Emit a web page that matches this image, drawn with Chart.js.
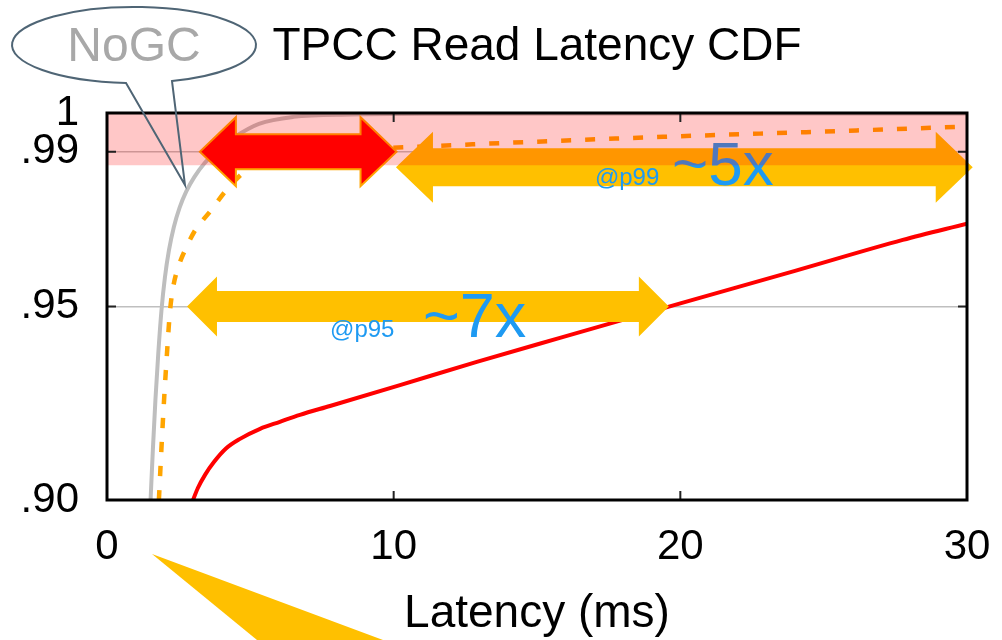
<!DOCTYPE html>
<html>
<head>
<meta charset="utf-8">
<title>TPCC Read Latency CDF</title>
<script src="https://cdn.jsdelivr.net/npm/chart.js@4.4.1/dist/chart.umd.min.js"></script>
<style>
  html, body { margin: 0; padding: 0; background: #fff; }
  #wrap { width: 1002px; height: 640px; }
</style>
</head>
<body>
<div id="wrap"><canvas id="cdf" width="1002" height="640"></canvas></div>
<script>
const FONT = "'Liberation Sans', Arial, Helvetica, sans-serif";

const xTicks = [0, 10, 20, 30];
const yTicks = [0.90, 0.95, 0.99, 1];
const yTickLabels = ['.90', '.95', '.99', '1'];

// latency (ms) -> cumulative fraction
const noGcX = [1.52, 1.60, 1.69, 1.79, 1.90, 2.02, 2.16, 2.33, 2.53, 2.77, 3.05, 3.4, 3.85, 4.45, 5.3, 6.5, 8.5, 12, 20, 30];
const noGcY = [0.900, 0.913, 0.926, 0.938, 0.949, 0.9575, 0.9645, 0.9705, 0.9755, 0.9798, 0.9835, 0.9870, 0.9905, 0.9938, 0.9972, 0.9990, 0.9996, 0.9998, 0.9999, 0.9999];

const dashX = [1.81, 1.89, 1.98, 2.08, 2.2, 2.32, 2.5, 2.75, 3.1, 3.59, 4.19, 4.88, 5.69, 7.0, 8.8, 10.57, 15, 20, 25, 30];
const dashY = [0.900, 0.912, 0.9245, 0.9365, 0.9490, 0.9555, 0.9605, 0.9650, 0.9700, 0.9745, 0.9803, 0.9853, 0.9880, 0.9897, 0.9906, 0.9912, 0.9926, 0.9940, 0.9952, 0.9965];

const redX = [3.0, 3.17, 3.42, 3.73, 4.15, 4.64, 5.34, 6.03, 6.73, 7.78, 10.22, 12.9, 15.8, 20, 24, 27.76, 30];
const redY = [0.900, 0.9031, 0.9065, 0.9098, 0.9133, 0.9158, 0.9184, 0.9202, 0.9220, 0.9243, 0.9297, 0.9357, 0.9419, 0.9508, 0.9592, 0.9672, 0.9714];

// double arrows: from / to (ms) at a percentile level
const arrowFrom = [3.24, 10.08, 2.79];
const arrowTo = [10.1, 30.2, 19.6];
const arrowLevel = [0.99, 0.986, 0.95];

// shaded p99+ band
const bandFrom = 0.9865;
const bandTo = 1;

const toPoints = (xs, ys) => xs.map((x, i) => ({ x: x, y: ys[i] }));

const arrowStyles = [
    { fill: '#FF0000', stroke: '#FFA500', shaft: 17.5, head: 34.5, len: 36 },
    { fill: '#FFC000', stroke: null, shaft: 19, head: 35.5, len: 37 },
    { fill: '#FFC000', stroke: null, shaft: 15.5, head: 30, len: 30 }
];

const notes = [
    { text: '@p99', x: 17.02, y: 0.9814, size: 24 },
    { text: '~5x', x: 19.71, y: 0.9814, size: 62 },
    { text: '@p95', x: 7.78, y: 0.9421, size: 24 },
    { text: '~7x', x: 11.02, y: 0.9421, size: 63 }
];

function blockArrow(ctx, x1, x2, y, s) {
    ctx.beginPath();
    ctx.moveTo(x1, y);
    ctx.lineTo(x1 + s.len, y - s.head);
    ctx.lineTo(x1 + s.len, y - s.shaft);
    ctx.lineTo(x2 - s.len, y - s.shaft);
    ctx.lineTo(x2 - s.len, y - s.head);
    ctx.lineTo(x2, y);
    ctx.lineTo(x2 - s.len, y + s.head);
    ctx.lineTo(x2 - s.len, y + s.shaft);
    ctx.lineTo(x1 + s.len, y + s.shaft);
    ctx.lineTo(x1 + s.len, y + s.head);
    ctx.closePath();
}

const decorPlugin = {
    id: 'decor',
    afterDatasetsDraw(chart) {
        const ctx = chart.ctx;
        const xs = chart.scales.x;
        const ys = chart.scales.y;
        const area = chart.chartArea;

        // arrows
        arrowFrom.forEach((from, i) => {
            const s = arrowStyles[i];
            blockArrow(ctx, xs.getPixelForValue(from), xs.getPixelForValue(arrowTo[i]), ys.getPixelForValue(arrowLevel[i]), s);
            ctx.fillStyle = s.fill;
            ctx.fill();
            if (s.stroke) {
                ctx.lineWidth = 2;
                ctx.strokeStyle = s.stroke;
                ctx.lineJoin = 'miter';
                ctx.stroke();
            }
        });

        // speed-up notes
        ctx.save();
        ctx.fillStyle = '#1E9AF2';
        ctx.textAlign = 'left';
        ctx.textBaseline = 'alphabetic';
        notes.forEach(n => {
            ctx.font = n.size + 'px ' + FONT;
            ctx.fillText(n.text, xs.getPixelForValue(n.x), ys.getPixelForValue(n.y));
        });
        ctx.restore();

        // translucent band drawn over everything inside it
        const bTop = ys.getPixelForValue(bandTo);
        const bBot = ys.getPixelForValue(bandFrom);
        ctx.fillStyle = 'rgba(255, 0, 0, 0.22)';
        ctx.fillRect(area.left, bTop, area.right - area.left, bBot - bTop);

        // inner tick marks
        ctx.strokeStyle = '#222';
        ctx.lineWidth = 2;
        ctx.beginPath();
        [10, 20].forEach(v => {
            const px = xs.getPixelForValue(v);
            ctx.moveTo(px, area.top); ctx.lineTo(px, area.top + 9);
            ctx.moveTo(px, area.bottom); ctx.lineTo(px, area.bottom - 9);
        });
        [0.95, 0.99].forEach(v => {
            const py = ys.getPixelForValue(v);
            ctx.moveTo(area.left, py); ctx.lineTo(area.left + 9, py);
            ctx.moveTo(area.right, py); ctx.lineTo(area.right - 9, py);
        });
        ctx.stroke();

        // frame
        ctx.strokeStyle = '#000';
        ctx.lineWidth = 3;
        ctx.strokeRect(area.left, area.top, area.right - area.left, area.bottom - area.top);

        // NoGC speech bubble
        const cx = 134, cy = 45, rx = 122, ry = 38;
        const tA = Math.PI / 2 + 0.0656, tB = Math.acos(38 / 122);
        const tipX = xs.getPixelForValue(2.72), tipY = ys.getPixelForValue(0.9814);
        ctx.beginPath();
        ctx.ellipse(cx, cy, rx, ry, 0, 0, Math.PI * 2);
        ctx.fillStyle = '#fff';
        ctx.fill();
        ctx.beginPath();
        ctx.ellipse(cx, cy, rx, ry, 0, tA, tB + Math.PI * 2, false);
        ctx.lineTo(tipX, tipY);
        ctx.closePath();
        ctx.strokeStyle = '#4F6575';
        ctx.lineWidth = 2;
        ctx.stroke();
        ctx.fillStyle = '#A8A8A8';
        ctx.font = '48px ' + FONT;
        ctx.textAlign = 'center';
        ctx.textBaseline = 'middle';
        ctx.fillText('NoGC', cx, cy + 3);

        // yellow wedge below the axis, pointing at the NoGC onset
        const wx = xs.getPixelForValue(1.57), wy = area.bottom + 54;
        ctx.beginPath();
        ctx.moveTo(wx, wy);
        ctx.lineTo(wx + 231 * 2, wy + 86 * 2);
        ctx.lineTo(wx + 105 * 2, wy + 86 * 2);
        ctx.closePath();
        ctx.fillStyle = '#FFC000';
        ctx.fill();
    }
};

new Chart(document.getElementById('cdf'), {
    type: 'line',
    data: {
        datasets: [
            {
                label: 'NoGC',
                data: toPoints(noGcX, noGcY),
                borderColor: '#BEBEBE',
                borderWidth: 4,
                pointRadius: 0,
                cubicInterpolationMode: 'monotone'
            },
            {
                label: 'GC (dashed)',
                data: toPoints(dashX, dashY),
                borderColor: '#FFA500',
                borderWidth: 4.5,
                borderDash: [10, 14],
                borderCapStyle: 'butt',
                pointRadius: 0,
                cubicInterpolationMode: 'monotone'
            },
            {
                label: 'GC (red)',
                data: toPoints(redX, redY),
                borderColor: '#FF0000',
                borderWidth: 4,
                pointRadius: 0,
                cubicInterpolationMode: 'monotone'
            }
        ]
    },
    options: {
        responsive: false,
        animation: false,
        devicePixelRatio: 1,
        layout: { padding: { left: 0, right: 35, top: 0, bottom: 0 } },
        plugins: {
            legend: { display: false },
            tooltip: { enabled: false },
            title: {
                display: true,
                text: 'TPCC Read Latency CDF',
                fullSize: false,
                color: '#000',
                font: { family: FONT, size: 46, weight: 'normal', lineHeight: 1.2 },
                padding: { top: 20, bottom: 37.8 }
            }
        },
        scales: {
            x: {
                type: 'linear',
                min: 0,
                max: 30,
                afterBuildTicks: s => { s.ticks = xTicks.map(v => ({ value: v })); },
                afterFit: s => { s.height = 140; s.paddingLeft = 0; s.paddingRight = 0; },
                grid: { display: false, drawTicks: false },
                border: { display: false },
                ticks: { color: '#000', padding: 22, maxRotation: 0, font: { family: FONT, size: 42 } },
                title: {
                    display: true,
                    text: 'Latency (ms)',
                    color: '#000',
                    font: { family: FONT, size: 46, lineHeight: 1.1 },
                    padding: { top: 0, bottom: 0 }
                }
            },
            y: {
                type: 'linear',
                min: 0.9,
                max: 1,
                afterBuildTicks: s => { s.ticks = yTicks.map(v => ({ value: v })); },
                afterFit: s => { s.width = 107; },
                grid: {
                    drawTicks: false,
                    lineWidth: 1.5,
                    color: c => (c.tick && (c.tick.value === 0.95 || c.tick.value === 0.99)) ? '#BFBFBF' : 'rgba(0,0,0,0)'
                },
                border: { display: false },
                ticks: {
                    color: '#000',
                    padding: 28,
                    autoSkip: false,
                    font: { family: FONT, size: 42 },
                    callback: v => yTickLabels[yTicks.indexOf(v)]
                }
            }
        }
    },
    plugins: [decorPlugin]
});
</script>
</body>
</html>
